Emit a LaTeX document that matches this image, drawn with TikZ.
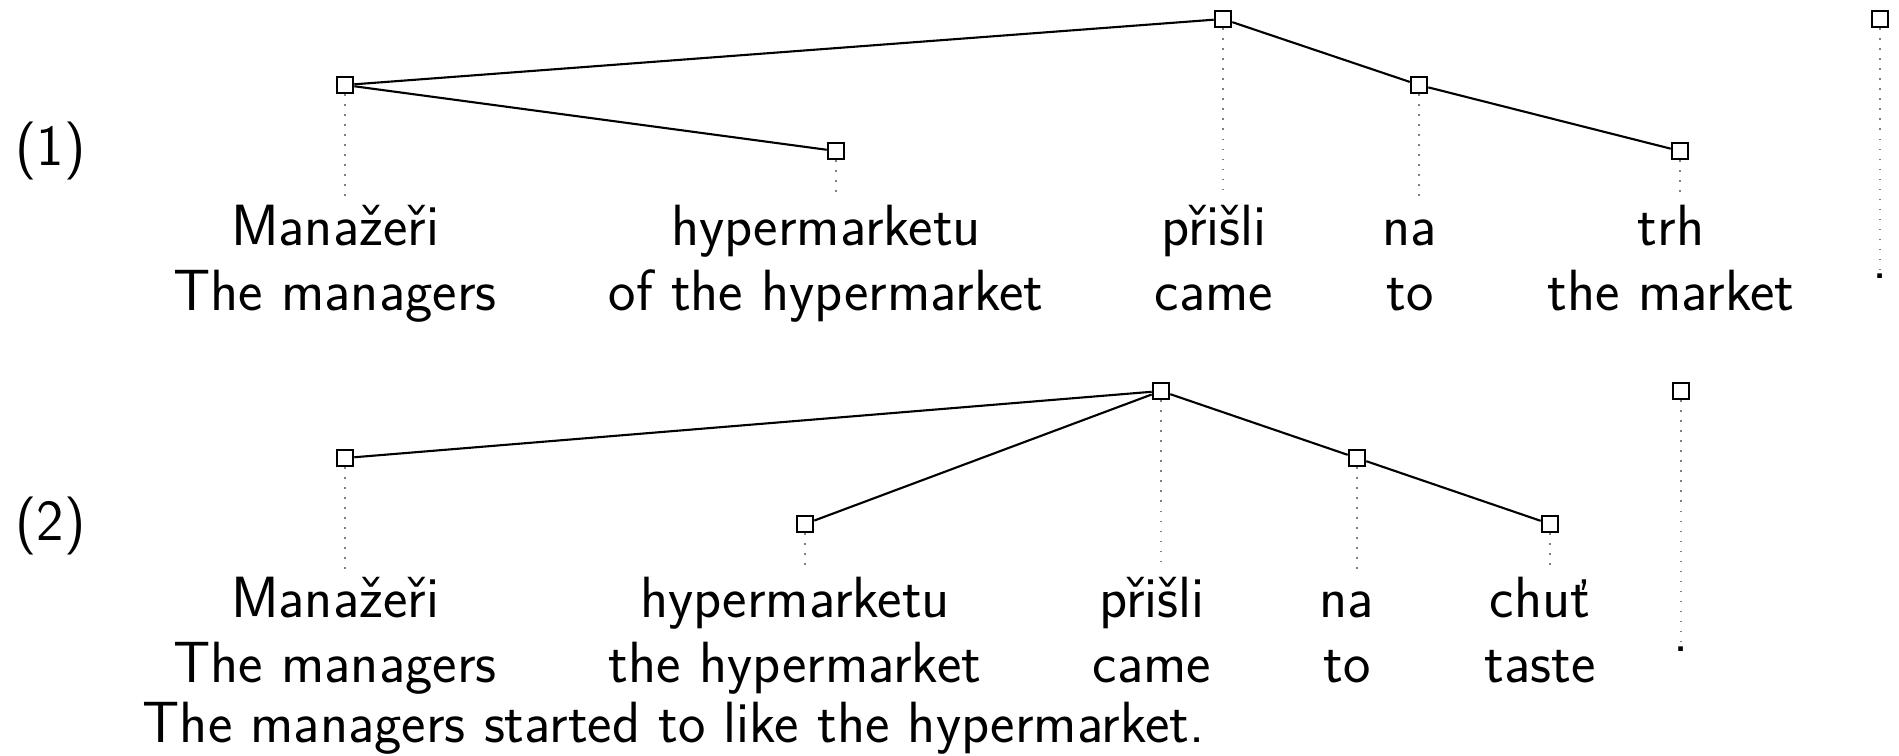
\documentclass[tikz,border=0pt]{standalone}
\begin{document}
\begin{tikzpicture}[x=1cm,y=1cm,
  sq/.style={draw, fill=white, line width=0.6pt, inner sep=0pt, minimum size=0.165cm},
  wd/.style={font=\sffamily\fontsize{16.55}{19}\selectfont, inner sep=0pt, anchor=base},
  lbl/.style={font=\sffamily\fontsize{16.55}{19}\selectfont, inner sep=0pt, anchor=base west},
  edge/.style={line width=0.6pt},
  dotline/.style={gray, line width=0.5pt, dash pattern=on 0.5pt off 2.35pt}]
\useasboundingbox (0,0) rectangle (18.99,-7.55);

% ---------- example (1) ----------
\node[lbl] (n1) at (0.15,-1.65) {(1)};
\node[sq] (s1a) at (3.45,-0.85) {};
\node[sq] (s1b) at (8.36,-1.51) {};
\node[sq] (s1c) at (12.23,-0.19) {};
\node[sq] (s1d) at (14.19,-0.85) {};
\node[sq] (s1e) at (16.80,-1.51) {};
\node[sq] (s1f) at (18.80,-0.19) {};

\node[wd] (w1a) at (3.35,-2.45) {Manažeři};
\node[wd] (w1b) at (8.26,-2.45) {hypermarketu};
\node[wd] (w1c) at (12.14,-2.45) {přišli};
\node[wd] (w1d) at (14.10,-2.45) {na};
\node[wd] (w1e) at (16.71,-2.45) {trh};
\node[wd] (w1f) at (18.80,-2.78) {.};

\node[wd] (g1a) at (3.35,-3.10) {The managers};
\node[wd] (g1b) at (8.26,-3.10) {of the hypermarket};
\node[wd] (g1c) at (12.14,-3.10) {came};
\node[wd] (g1d) at (14.10,-3.10) {to};
\node[wd] (g1e) at (16.71,-3.10) {the market};

\coordinate (e1a) at (3.45,-1.97);
\coordinate (e1b) at (8.36,-1.97);
\coordinate (e1c) at (12.23,-1.97);
\coordinate (e1d) at (14.19,-1.97);
\coordinate (e1e) at (16.80,-1.97);
\coordinate (e1f) at (18.80,-2.70);

\draw[dotline] (s1a) -- (e1a);
\draw[dotline] (s1b) -- (e1b);
\draw[dotline] (s1c) -- (e1c);
\draw[dotline] (s1d) -- (e1d);
\draw[dotline] (s1e) -- (e1e);
\draw[dotline] (s1f) -- (e1f);

\draw[edge] (s1c) -- (s1a);
\draw[edge] (s1a) -- (s1b);
\draw[edge] (s1c) -- (s1d);
\draw[edge] (s1d) -- (s1e);

% ---------- example (2) ----------
\node[lbl] (n2) at (0.15,-5.40) {(2)};
\node[sq] (s2a) at (3.45,-4.58) {};
\node[sq] (s2b) at (8.05,-5.24) {};
\node[sq] (s2c) at (11.61,-3.91) {};
\node[sq] (s2d) at (13.57,-4.58) {};
\node[sq] (s2e) at (15.50,-5.24) {};
\node[sq] (s2f) at (16.81,-3.91) {};

\node[wd] (w2a) at (3.35,-6.17) {Manažeři};
\node[wd] (w2b) at (7.95,-6.17) {hypermarketu};
\node[wd] (w2c) at (11.52,-6.17) {přišli};
\node[wd] (w2d) at (13.47,-6.17) {na};
\node[wd] (w2e) at (15.40,-6.17) {chuť};
\node[wd] (w2f) at (16.81,-6.51) {.};

\node[wd] (g2a) at (3.35,-6.82) {The managers};
\node[wd] (g2b) at (7.95,-6.82) {the hypermarket};
\node[wd] (g2c) at (11.52,-6.82) {came};
\node[wd] (g2d) at (13.47,-6.82) {to};
\node[wd] (g2e) at (15.40,-6.82) {taste};

\node[lbl] (t2) at (1.42,-7.42) {The managers started to like the hypermarket.};

\coordinate (e2a) at (3.45,-5.69);
\coordinate (e2b) at (8.05,-5.69);
\coordinate (e2c) at (11.61,-5.69);
\coordinate (e2d) at (13.57,-5.69);
\coordinate (e2e) at (15.50,-5.69);
\coordinate (e2f) at (16.81,-6.43);

\draw[dotline] (s2a) -- (e2a);
\draw[dotline] (s2b) -- (e2b);
\draw[dotline] (s2c) -- (e2c);
\draw[dotline] (s2d) -- (e2d);
\draw[dotline] (s2e) -- (e2e);
\draw[dotline] (s2f) -- (e2f);

\draw[edge] (s2c) -- (s2a);
\draw[edge] (s2c) -- (s2b);
\draw[edge] (s2c) -- (s2d);
\draw[edge] (s2d) -- (s2e);
\end{tikzpicture}
\end{document}
